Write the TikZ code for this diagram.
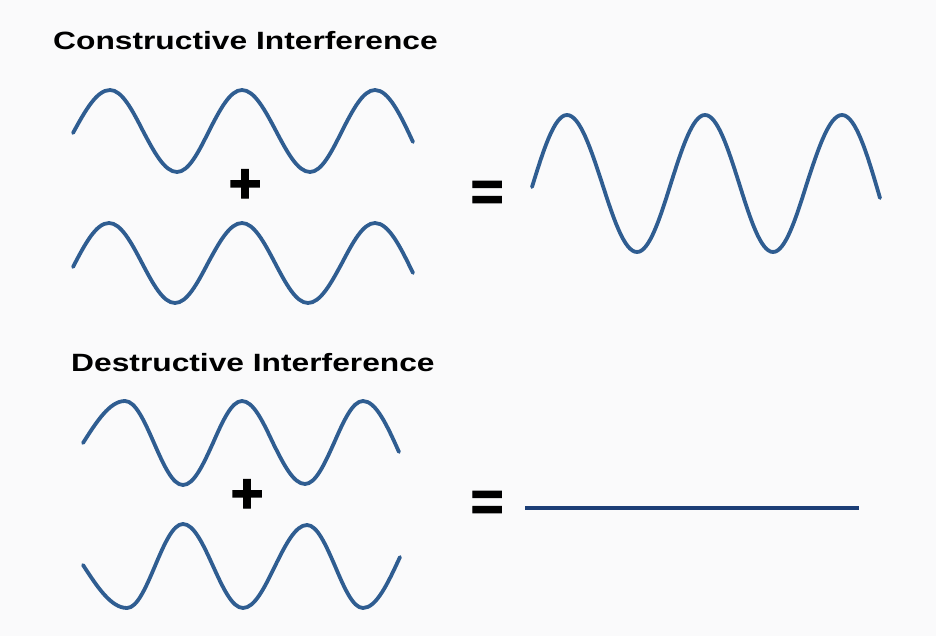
\documentclass[tikz,border=0pt]{standalone}
\usepackage{fontspec}
\setmainfont{Liberation Sans}
\newfontfamily\heavyfont[BoldFeatures={FakeBold=2.5}]{Liberation Sans}
\usepackage{tikz}
\definecolor{wavecol}{RGB}{47,93,145}
\definecolor{flatcol}{RGB}{28,62,118}
\definecolor{bgcol}{RGB}{250,250,251}

\begin{document}
\begin{tikzpicture}[x=1pt, y=-1pt,
    wave/.style={draw=wavecol, line width=3.8pt, line cap=round, line join=round},
    flat/.style={draw=flatcol, line width=3.4pt},
    title/.style={anchor=base west, inner sep=0pt, font=\fontsize{25}{30}\selectfont\bfseries},
    sign/.style={inner sep=0pt, font=\fontsize{56}{56}\selectfont\heavyfont\bfseries}]
    \fill[bgcol] (0,0) rectangle (936,636);
    \useasboundingbox (0,0) rectangle (936,636);

    % constructive
    \node (ctitle) [title] at (53,50) {\scalebox{1.27}[1]{Constructive Interference}};
    \draw[wave] (73,133) sin (110,90) cos (143,131) sin (177,172) cos (209,131) sin (242,90)
        cos (276,131) sin (310,172) cos (342,131) sin (375,90) cos (413,142);
    \node (cplus) [sign] at (245,186) {+};
    \draw[wave] (73,267) sin (109,223) cos (142,263) sin (175,303) cos (208,263) sin (242,223)
        cos (275,263) sin (308,303) cos (342,263) sin (375,223) cos (413,273);
    \node (cequals) [sign] at (487,196) {=};
    \draw[wave] (532,187) sin (567,115) cos (602,183) sin (637,252) cos (671,183) sin (705,115)
        cos (739,183) sin (773,252) cos (807,183) sin (842,115) cos (880,198);

    % destructive
    \node (dtitle) [title] at (71,371) {\scalebox{1.27}[1]{Destructive Interference}};
    \draw[wave] (83,443) sin (125,401) cos (154,443) sin (183,485) cos (213,443) sin (242,401)
        cos (273,443) sin (305,484) cos (334,443) sin (363,401) cos (399,452);
    \node (dplus) [sign] at (247,496) {+};
    \draw[wave] (83,565) sin (127,608) cos (155,566) sin (183,524) cos (213,566) sin (243,608)
        cos (275,566) sin (307,525) cos (335,566) sin (363,608) cos (400,557);
    \node (dequals) [sign] at (487,506) {=};
    \draw[flat] (525,508) -- (859,508);
  \end{tikzpicture}
\end{document}
